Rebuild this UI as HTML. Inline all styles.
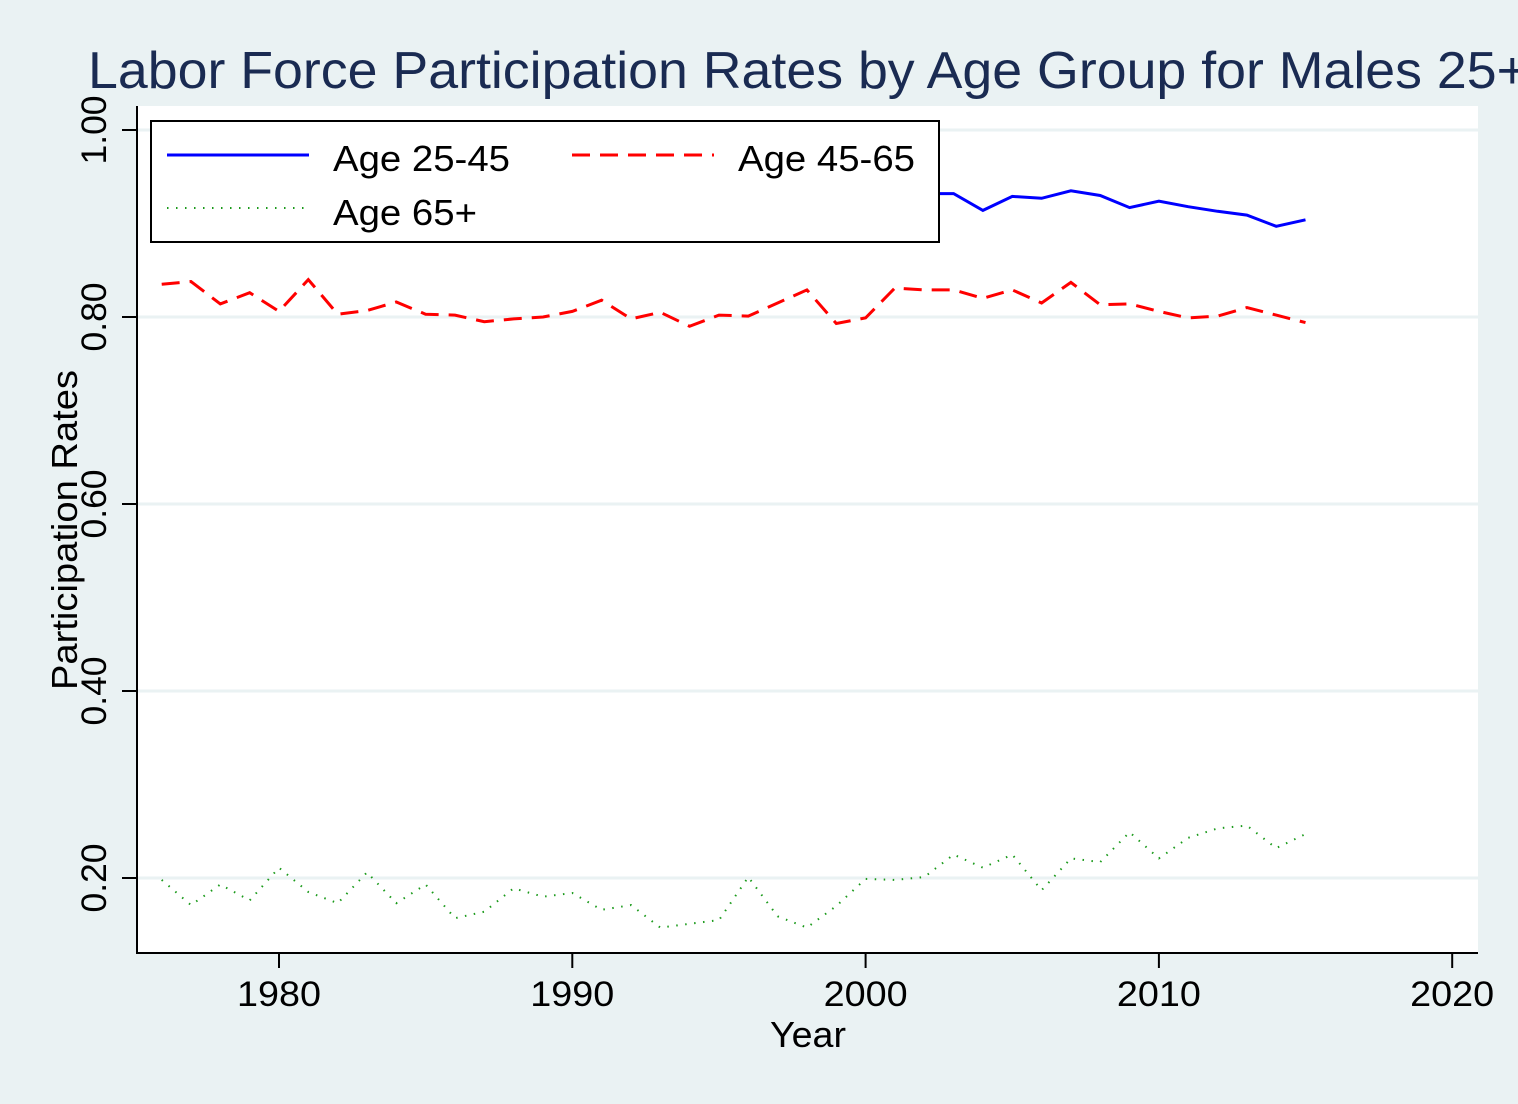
<!DOCTYPE html>
<html><head><meta charset="utf-8"><style>
html,body{margin:0;padding:0;background:#eaf2f3;overflow:hidden;}
svg{display:block;font-family:"Liberation Sans",Arial,sans-serif;}
</style></head><body>
<svg id="chart" width="1518" height="1104" viewBox="0 0 1518 1104">
<rect x="0" y="0" width="1518" height="1104" fill="#eaf2f3"/>
<text x="88" y="88" font-size="52" textLength="1440" lengthAdjust="spacingAndGlyphs" fill="#1a2b52">Labor Force Participation Rates by Age Group for Males 25+</text>
<rect x="137" y="106" width="1341" height="847" fill="#ffffff"/>
<g id="grid"></g>
<g id="series"></g>
<g id="axes"></g>
<text x="770" y="1047" font-size="36" textLength="76" lengthAdjust="spacingAndGlyphs" fill="#000">Year</text>
<text transform="translate(77,690) rotate(-90)" font-size="36" textLength="320" lengthAdjust="spacingAndGlyphs" fill="#000">Participation Rates</text>
<g>
<rect x="151" y="121" width="788" height="121" fill="#fff" stroke="#000" stroke-width="2"/>
<line x1="167" y1="155" x2="309" y2="155" stroke="#0000ff" stroke-width="3"/>
<text x="333" y="171" font-size="36" textLength="177" lengthAdjust="spacingAndGlyphs" fill="#000">Age 25-45</text>
<line x1="572" y1="155" x2="714" y2="155" stroke="#ff0000" stroke-width="3" stroke-dasharray="18,10"/>
<text x="738" y="171" font-size="36" textLength="177" lengthAdjust="spacingAndGlyphs" fill="#000">Age 45-65</text>
<line x1="167" y1="208" x2="309" y2="208" stroke="#1a9a1a" stroke-width="2" stroke-dasharray="1.5,7.5"/>
<text x="333" y="225" font-size="36" textLength="144" lengthAdjust="spacingAndGlyphs" fill="#000">Age 65+</text>
</g>
</svg>
<script>
const years = [];
for (let y = 1976; y <= 2015; y++) years.push(y);
const age25_45 = [0.945,0.946,0.945,0.944,0.942,0.941,0.939,0.938,0.939,0.940,0.939,0.938,0.939,0.938,0.937,0.935,0.934,0.933,0.933,0.933,0.932,0.933,0.934,0.933,0.933,0.932,0.932,0.932,0.914,0.929,0.927,0.935,0.930,0.917,0.924,0.918,0.913,0.909,0.897,0.904];
const age45_65 = [0.835,0.838,0.814,0.826,0.806,0.840,0.803,0.807,0.816,0.803,0.802,0.795,0.798,0.800,0.806,0.818,0.798,0.805,0.790,0.802,0.801,0.815,0.829,0.793,0.799,0.831,0.829,0.829,0.820,0.829,0.815,0.837,0.813,0.814,0.806,0.799,0.801,0.810,0.802,0.794];
const age65plus = [0.198,0.171,0.193,0.176,0.211,0.185,0.173,0.206,0.173,0.193,0.157,0.164,0.189,0.180,0.184,0.166,0.171,0.147,0.151,0.155,0.201,0.159,0.147,0.170,0.199,0.198,0.201,0.225,0.211,0.225,0.187,0.221,0.217,0.249,0.221,0.243,0.253,0.256,0.232,0.247];
const yTicks = [0.2,0.4,0.6,0.8,1.0];
const yTickLabels = ["0.20","0.40","0.60","0.80","1.00"];
const xTicks = [1980,1990,2000,2010,2020];

const NS = "http://www.w3.org/2000/svg";
function xs(v){ return 279 + (v - 1980) * 29.33; }
function ys(v){ return 878 - (v - 0.2) * 935; }
function mk(tag, attrs, parent){ const e = document.createElementNS(NS, tag); for (const k in attrs) e.setAttribute(k, attrs[k]); parent.appendChild(e); return e; }

const grid = document.getElementById('grid');
const axes = document.getElementById('axes');
const series = document.getElementById('series');

yTicks.forEach((t, i) => {
  const g = mk('line', {x1:137, x2:1478, y1:ys(t), y2:ys(t), stroke:'#eaf2f3', 'stroke-width':3}, grid);
  
  
  const tk = mk('line', {x1:122, x2:137, y1:ys(t), y2:ys(t), stroke:'#000', 'stroke-width':2}, axes);
  
  
  const lb = mk('text', {transform:'translate(106,' + ys(t) + ') rotate(-90)', 'font-size':35, 'text-anchor':'middle', textLength:69, lengthAdjust:'spacingAndGlyphs', fill:'#000'}, axes);
  lb.textContent = yTickLabels[i];
  
  
});
xTicks.forEach(t => {
  const tk = mk('line', {x1:xs(t), x2:xs(t), y1:953, y2:968, stroke:'#000', 'stroke-width':2}, axes);
  
  
  const lb = mk('text', {x:xs(t), y:1006, 'font-size':35, 'text-anchor':'middle', textLength:84, lengthAdjust:'spacingAndGlyphs', fill:'#000'}, axes);
  lb.textContent = String(t);
  
  
});
const yAxis = mk('line', {x1:137, x2:137, y1:106, y2:954, stroke:'#000', 'stroke-width':2}, axes);


const xAxis = mk('line', {x1:136, x2:1478, y1:953, y2:953, stroke:'#000', 'stroke-width':2}, axes);



function pts(arr){ return arr.map((v, i) => xs(years[i]).toFixed(1) + ',' + ys(v).toFixed(1)).join(' '); }
const l1 = mk('polyline', {points:pts(age25_45), fill:'none', stroke:'#0000ff', 'stroke-width':3}, series);


const l2 = mk('polyline', {points:pts(age45_65), fill:'none', stroke:'#ff0000', 'stroke-width':3, 'stroke-dasharray':'18,10'}, series);


const l3 = mk('polyline', {points:pts(age65plus), fill:'none', stroke:'#1a9a1a', 'stroke-width':2, 'stroke-dasharray':'1.5,7.5'}, series);


</script>
</body></html>
